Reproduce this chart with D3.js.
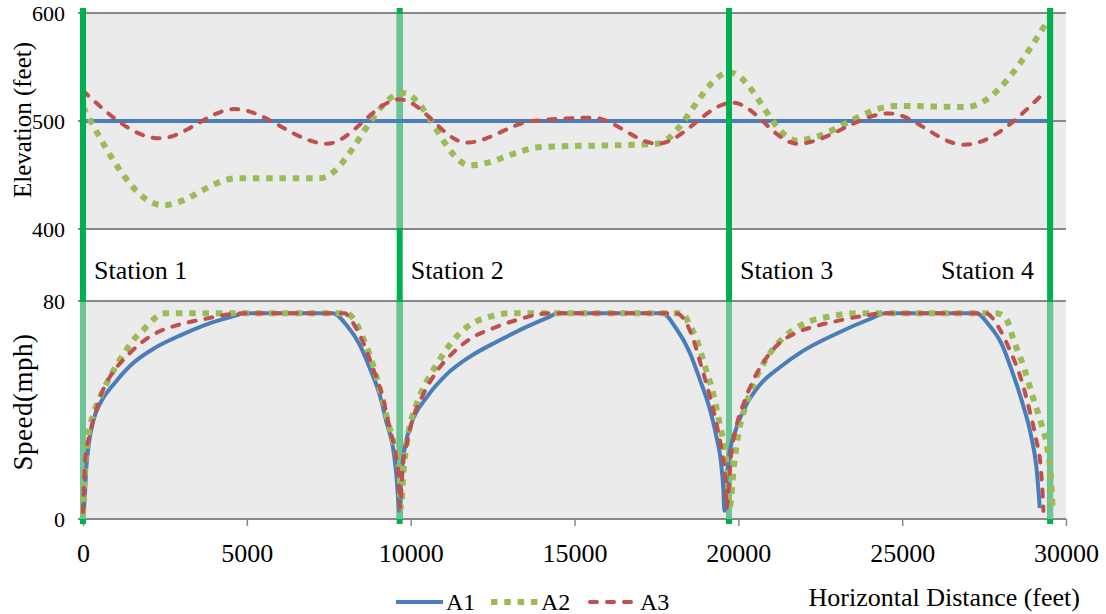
<!DOCTYPE html>
<html>
<head>
<meta charset="utf-8">
<script src="https://cdn.jsdelivr.net/npm/d3@7"></script>
<style>
body { margin: 0; background: #fff; }
text { font-family: "Liberation Serif", "Times New Roman", serif; fill: #000; }
</style>
</head>
<body>
<div id="container"></div>
<script>

// chart data
const distTicks = [0, 5000, 10000, 15000, 20000, 25000, 30000];
const elevTicks = [400, 500, 600];
const speedTicks = [0, 80];
const stationNames = ["Station 1", "Station 2", "Station 3", "Station 4"];
const stationFt = [0, 9665, 19715, 29515];
const seriesNames = ["A1", "A2", "A3"];

// elevation profiles [distance ft, elevation ft]
const elevA1 = [[0, 500], [9665, 500], [19715, 500], [29515, 500]];
const elevA2 = [[0, 513], [2440, 422], [4695, 447], [7225, 447], [9757, 526], [11800, 459],
  [14025, 476], [16770, 478], [17530, 479], [19730, 545], [21770, 482], [24820, 514],
  [26950, 513], [29545, 598]];
const elevA3 = [[0, 528], [2348, 484], [4634, 511], [7440, 479], [9665, 520], [11707, 480],
  [13720, 500], [15550, 503], [17530, 479], [19820, 517], [21800, 479], [24600, 507],
  [26890, 478], [29390, 528]];

// speed profiles [distance ft, speed mph]
const speedA1 = [[0, 3], [30, 4], [100, 18.7], [183, 28], [305, 35.6], [549, 43], [976, 50],
  [1463, 56.5], [2195, 62.8], [2988, 67.5], [3903, 72], [4726, 74.9], [4880, 75.5],
  [7620, 75.5], [8040, 71.2], [8446, 63.9], [8751, 55.4], [9056, 45.5], [9260, 35.6],
  [9463, 26], [9565, 16], [9626, 6], [9646, 3],
  [9700, 14], [9765, 22], [9850, 28], [10020, 35], [10480, 44.5], [11090, 53], [11800, 59.5],
  [12700, 65.5], [13500, 70.3], [14200, 74], [14500, 75.5],
  [17680, 75.5], [18100, 70], [18510, 61.3], [18810, 51.7], [19120, 40.7], [19320, 30.8],
  [19470, 20.9], [19540, 11.4], [19575, 3],
  [19640, 15], [19730, 24], [19930, 33], [20240, 41.8], [20640, 49], [21250, 55.5], [21950, 61.5],
  [22990, 68], [24000, 73.3], [24500, 75.5],
  [27260, 75.5], [27650, 71.2], [28050, 63.9], [28360, 54], [28660, 43], [28930, 30.8],
  [29100, 18.7], [29200, 4]];
const speedA2 = [[0, 1.5], [70, 20], [152, 30], [305, 38], [509, 44.4], [854, 52.8],
  [1280, 61.3], [1585, 66.4], [1890, 70], [2195, 73.7], [2440, 75.5],
  [8050, 75.5], [8240, 73.7], [8550, 66.4], [8850, 56.5], [9110, 45.5], [9310, 35.6],
  [9515, 26], [9665, 16], [9696, 4],
  [9800, 20], [9920, 30.8], [10170, 41.8], [10480, 50.3], [10785, 56.5], [11090, 62.3], [11390, 66.8],
  [11700, 70.3], [12050, 72.8], [12460, 74.4], [13000, 75.5],
  [18300, 75.5], [18510, 71.2], [18710, 66.4], [18970, 56.5], [19220, 46.6], [19420, 35.6],
  [19575, 26], [19675, 16], [19730, 4],
  [19880, 21], [20030, 33], [20240, 42], [20490, 50.5], [20790, 57.5], [21100, 63],
  [21400, 66.8], [21700, 69.6], [22060, 72], [22780, 74.3], [23600, 75.5],
  [27870, 75.5], [28160, 73.7], [28420, 65], [28720, 55.4], [28970, 45.5], [29230, 35.6],
  [29430, 26], [29540, 15], [29590, 4]];
const speedA3 = [[0, 2.6], [70, 22], [204, 31], [356, 38], [549, 45.5], [854, 52.8],
  [1280, 59], [1768, 64.6], [2287, 68.6], [2897, 71.2], [3720, 73.4], [4512, 75.2], [4940, 75.5],
  [7990, 75.5], [8140, 73.7], [8540, 65], [8850, 55.4], [9150, 44.4], [9360, 33.4],
  [9545, 23.5], [9645, 13.6], [9665, 4],
  [9765, 19.8], [9890, 28], [10070, 37], [10375, 45.5], [10785, 54], [11290, 61],
  [11800, 66], [12510, 70], [13230, 73], [14240, 75.5],
  [18100, 75.5], [18300, 74], [18610, 66.4], [18860, 56.5], [19120, 45.5], [19340, 34.5],
  [19500, 24.6], [19600, 15], [19640, 4],
  [19780, 23.5], [19930, 33.4], [20180, 43], [20490, 51.7], [20850, 59], [21250, 64.5],
  [21760, 68.3], [22370, 70.8], [22990, 72.6], [24000, 74.9], [24390, 75.5],
  [27560, 75.5], [27960, 70], [28310, 61.3], [28620, 51.7], [28870, 40.7], [29080, 29.7],
  [29230, 18.7], [29300, 6], [29310, 3]];

// layout
const width = 1106;
const height = 614;
const plotLeft = 83;
const plotRight = 1066;
const elevTop = 13;
const elevBottom = 229;
const speedTop = 301;
const speedBottom = 519;
const serif = "Liberation Serif, Times New Roman, serif";

const x = d3.scaleLinear().domain([0, 30000]).range([plotLeft, plotRight]);
const yElev = d3.scaleLinear().domain([400, 600]).range([elevBottom, elevTop]);
const ySpeed = d3.scaleLinear().domain([0, 80]).range([speedBottom, speedTop]);

const styles = {
  A1: { color: "#4a7ebb", width: 4, dash: null, cap: "butt" },
  A2: { color: "#9bbb59", width: 6, dash: "6.5,6.8", cap: "butt" },
  A3: { color: "#c0504d", width: 4, dash: "7,10", cap: "round" }
};

const svg = d3.create("svg")
    .attr("width", width)
    .attr("height", height)
    .attr("font-family", serif)
    .style("background", "#fff");

// panel backgrounds
svg.append("rect")
    .attr("x", plotLeft).attr("y", elevTop)
    .attr("width", plotRight - plotLeft).attr("height", elevBottom - elevTop)
    .attr("fill", "#ebebeb");
svg.append("rect")
    .attr("x", plotLeft).attr("y", speedTop)
    .attr("width", plotRight - plotLeft).attr("height", speedBottom - speedTop)
    .attr("fill", "#ebebeb");

// gridlines
svg.append("g").selectAll("line")
  .data(elevTicks)
  .join("line")
    .attr("x1", plotLeft - 5).attr("x2", plotRight)
    .attr("y1", d => yElev(d)).attr("y2", d => yElev(d))
    .attr("stroke", "#888").attr("stroke-width", 2);
svg.append("g").selectAll("line")
  .data(speedTicks)
  .join("line")
    .attr("x1", plotLeft - 5).attr("x2", plotRight)
    .attr("y1", d => ySpeed(d)).attr("y2", d => ySpeed(d))
    .attr("stroke", "#888").attr("stroke-width", 2);

// y tick labels
svg.append("g").selectAll("text")
  .data(elevTicks)
  .join("text")
    .attr("x", 65).attr("y", d => yElev(d))
    .attr("dy", "0.35em")
    .attr("text-anchor", "end")
    .attr("font-size", 22)
    .text(d => d);
svg.append("g").selectAll("text")
  .data(speedTicks)
  .join("text")
    .attr("x", 65).attr("y", d => ySpeed(d))
    .attr("dy", "0.35em")
    .attr("text-anchor", "end")
    .attr("font-size", 22)
    .text(d => d);

// x axis
const xAxis = svg.append("g")
    .attr("transform", `translate(0,${speedBottom})`)
    .call(d3.axisBottom(x).tickValues(distTicks).tickSize(7).tickFormat(d3.format("d")));
xAxis.attr("font-family", serif);
xAxis.select(".domain").remove();
xAxis.selectAll("line").attr("stroke", "#888").attr("stroke-width", 1.5);
xAxis.selectAll("text")
    .attr("y", 34).attr("dy", "0.35em")
    .attr("font-size", 26)
    .attr("fill", "#000");

// station lines: dark full length, light where they cross the panels
const stationG = svg.append("g");
stationG.selectAll("line")
  .data(stationFt)
  .join("line")
    .attr("x1", d => x(d)).attr("x2", d => x(d))
    .attr("y1", 8).attr("y2", 524)
    .attr("stroke", "#00b050").attr("stroke-width", 6);
stationG.selectAll(".light-speed")
  .data(stationFt)
  .join("line")
    .attr("class", "light-speed")
    .attr("x1", d => x(d)).attr("x2", d => x(d))
    .attr("y1", speedTop + 1).attr("y2", speedBottom)
    .attr("stroke", "#6cc594").attr("stroke-width", 6);
stationG.selectAll(".light-elev")
  .data(stationFt.filter((d, i) => i === 1))
  .join("line")
    .attr("class", "light-elev")
    .attr("x1", d => x(d)).attr("x2", d => x(d))
    .attr("y1", elevTop + 1).attr("y2", elevBottom - 1)
    .attr("stroke", "#6cc594").attr("stroke-width", 6);

// curves
const elevLine = d3.line()
    .x(d => x(d[0]))
    .y(d => yElev(d[1]))
    .curve(d3.curveMonotoneX);
const speedLine = d3.line()
    .x(d => x(d[0]))
    .y(d => ySpeed(d[1]))
    .curve(d3.curveMonotoneX);

function drawSeries(path, name) {
  const s = styles[name];
  path.attr("fill", "none")
      .attr("stroke", s.color)
      .attr("stroke-width", s.width)
      .attr("stroke-linecap", s.cap)
      .attr("stroke-dasharray", s.dash);
}

const elevData = { A1: elevA1, A2: elevA2, A3: elevA3 };
const speedData = { A1: speedA1, A2: speedA2, A3: speedA3 };

seriesNames.forEach(name => {
  svg.append("path").attr("d", elevLine(elevData[name])).call(drawSeries, name);
});
seriesNames.forEach(name => {
  svg.append("path").attr("d", speedLine(speedData[name])).call(drawSeries, name);
});

// dark station lines stay on top in the elevation panel (except station 2)
svg.append("g").selectAll("line")
  .data(stationFt.filter((d, i) => i !== 1))
  .join("line")
    .attr("x1", d => x(d)).attr("x2", d => x(d))
    .attr("y1", 8).attr("y2", elevBottom + 1)
    .attr("stroke", "#00b050").attr("stroke-width", 6);

// station labels
svg.append("g").selectAll("text")
  .data(stationNames)
  .join("text")
    .attr("x", (d, i) => i < 3 ? x(stationFt[i]) + 11 : x(stationFt[i]) - 16)
    .attr("y", 279)
    .attr("text-anchor", (d, i) => i < 3 ? "start" : "end")
    .attr("font-size", 26)
    .text(d => d);

// axis titles
svg.append("text")
    .attr("transform", "translate(31,120) rotate(-90)")
    .attr("text-anchor", "middle")
    .attr("font-size", 25)
    .text("Elevation (feet)");
svg.append("text")
    .attr("transform", "translate(32,402) rotate(-90)")
    .attr("text-anchor", "middle")
    .attr("font-size", 27)
    .attr("letter-spacing", 0.5)
    .text("Speed(mph)");
svg.append("text")
    .attr("x", 1080).attr("y", 606)
    .attr("text-anchor", "end")
    .attr("font-size", 26)
    .text("Horizontal Distance (feet)");

// legend
const legendX = [396, 491, 590];
const legend = svg.append("g").selectAll("g")
  .data(seriesNames)
  .join("g")
    .attr("transform", (d, i) => `translate(${legendX[i]},602)`);
legend.append("line")
    .attr("x1", 0).attr("x2", 47)
    .attr("y1", 0).attr("y2", 0)
    .each(function(d) { d3.select(this).call(drawSeries, d); });
legend.append("text")
    .attr("x", 50).attr("y", 0)
    .attr("dy", "0.35em")
    .attr("font-size", 24)
    .text(d => d);

container.append(svg.node());
</script>
</body>
</html>
